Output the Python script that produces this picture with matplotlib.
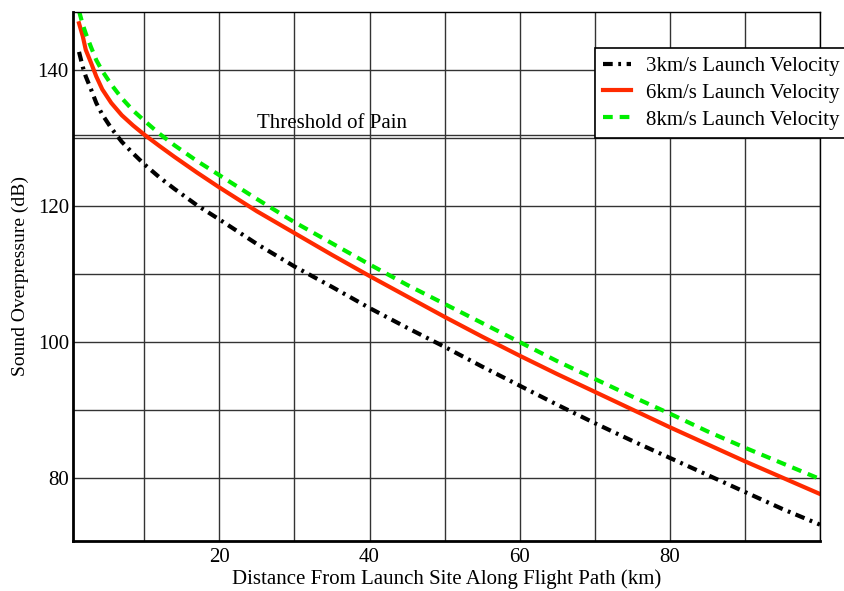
import matplotlib
matplotlib.use("Agg")
import matplotlib.pyplot as plt
from matplotlib.ticker import MultipleLocator

plt.rcParams['font.family'] = ['Liberation Serif', 'DejaVu Serif']
plt.rcParams['lines.scale_dashes'] = False

# distance along flight path (km)
distance = [1.3, 1.8, 2.2, 2.9, 3.6, 4.4, 5.6, 7, 8.5, 10, 12, 14, 17, 20,
            25, 30, 35, 40, 45, 50, 55, 60, 65, 70, 75, 80, 85, 90, 95, 100]

# sound overpressure (dB) per launch velocity
v3_db = [142.6, 140.4, 139.0, 137.1, 135.1, 133.4, 131.4, 129.4, 127.7, 126.1,
         124.2, 122.5, 120.1, 118.0, 114.4, 111.1, 108.1, 105.0, 102.1, 99.3,
         96.4, 93.6, 90.8, 88.1, 85.5, 83.0, 80.5, 78.0, 75.5, 73.2]
v6_db = [146.8, 144.9, 142.9, 141.0, 139.0, 137.1, 135.1, 133.3, 131.8, 130.45,
         128.8, 127.2, 124.9, 122.7, 119.2, 116.0, 112.8, 109.7, 106.7, 103.7,
         100.8, 98.0, 95.3, 92.7, 90.1, 87.5, 85.0, 82.5, 80.1, 77.7]
v8_db = [148.6, 146.6, 145.3, 143.3, 141.4, 139.8, 137.8, 135.8, 134.0, 132.5,
         130.6, 128.9, 126.6, 124.5, 121.0, 117.6, 114.5, 111.4, 108.4, 105.6,
         102.8, 100.0, 97.2, 94.6, 92.0, 89.5, 86.9, 84.5, 82.2, 79.9]

series_labels = ["3km/s Launch Velocity", "6km/s Launch Velocity", "8km/s Launch Velocity"]
threshold = 130.4

fig = plt.figure(figsize=(8.45, 5.91), dpi=100)
ax = fig.add_axes([0.0864, 0.0846, 0.8840, 0.8956])

# grid every 10
ax.xaxis.set_major_locator(MultipleLocator(20))
ax.xaxis.set_minor_locator(MultipleLocator(10))
ax.yaxis.set_major_locator(MultipleLocator(20))
ax.yaxis.set_minor_locator(MultipleLocator(10))
ax.grid(True, which='both', color='#333333', lw=1.0)
ax.set_axisbelow(True)

# threshold of pain
ax.axhline(threshold, color='#333333', lw=1.0)
ax.text(25, threshold + 0.3, "Threshold of Pain", fontsize=15, va='bottom', ha='left')

l1, = ax.plot(distance, v3_db, color='black', lw=3, label=series_labels[0])
l1.set_dashes([7, 4, 2, 4])
l2, = ax.plot(distance, v6_db, color='#ff2a00', lw=3, label=series_labels[1])
l3, = ax.plot(distance, v8_db, color='#00ee00', lw=3, label=series_labels[2])
l3.set_dashes([7, 5])

ax.set_xlim(0.5, 100)
ax.set_ylim(70.8, 148.5)

ax.tick_params(which='both', length=0, labelsize=15)
ax.tick_params(axis='x', pad=5)
ax.tick_params(axis='y', pad=3)
ax.set_xticks([20, 40, 60, 80])
ax.set_yticks([80, 100, 120, 140])

for side in ['left', 'bottom']:
    ax.spines[side].set_linewidth(2)
for side in ['right', 'top']:
    ax.spines[side].set_linewidth(1)

ax.set_xlabel("Distance From Launch Site Along Flight Path (km)", fontsize=15, labelpad=2)
ax.set_ylabel("Sound Overpressure (dB)", fontsize=14, labelpad=6)

leg = ax.legend(loc='upper left', bbox_to_anchor=(595 / 845, 1 - 48 / 591),
                bbox_transform=fig.transFigure, fontsize=15, frameon=True,
                fancybox=False, framealpha=1, edgecolor='black',
                handlelength=1.35, handletextpad=0.7, borderpad=0.4,
                labelspacing=0.35, borderaxespad=0)
leg.get_frame().set_linewidth(1.2)

fig.savefig("out.png", dpi=100)
